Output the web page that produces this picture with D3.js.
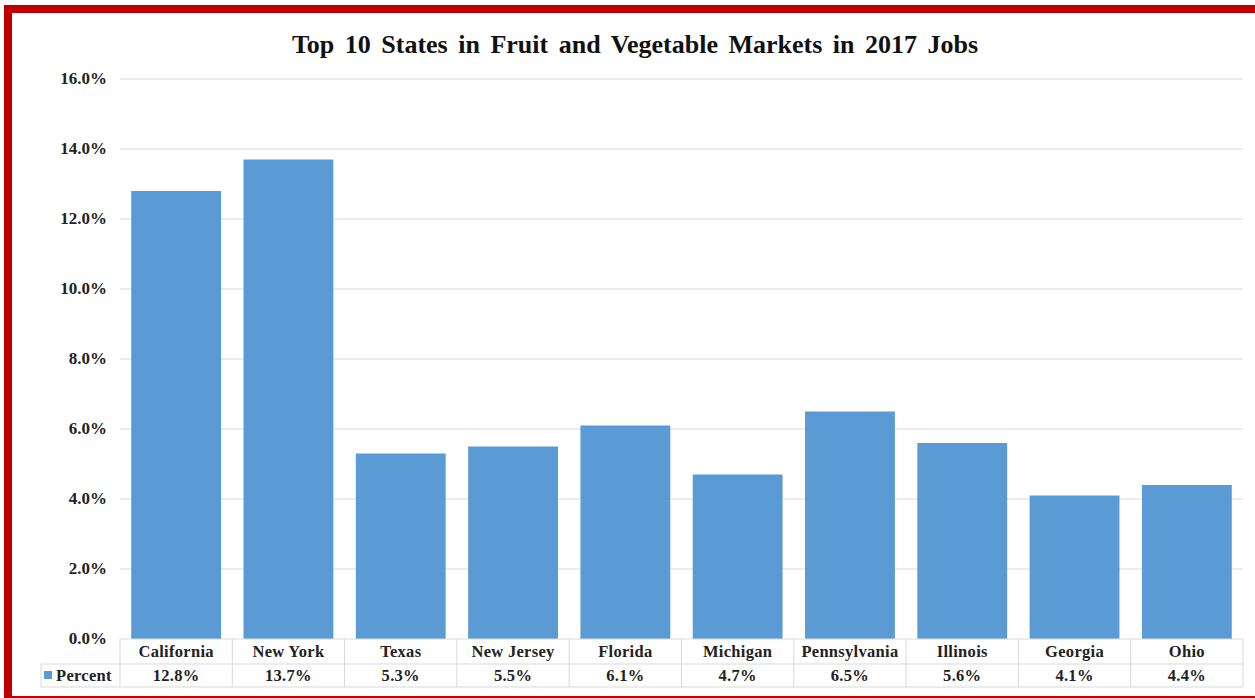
<!DOCTYPE html>
<html lang="en">
<head>
<meta charset="utf-8">
<title>Top 10 States in Fruit and Vegetable Markets in 2017 Jobs</title>
<script src="https://d3js.org/d3.v7.min.js"></script>
<style>
  body { margin: 0; background: #fff; }
  text { font-family: "Liberation Serif", "Times New Roman", serif; font-weight: bold; fill: #222; }
  text.title { font-size: 26px; fill: #111; word-spacing: 4px; }
  text.tick { font-size: 17px; }
  text.cell { font-size: 16.5px; letter-spacing: 0.3px; }
</style>
</head>
<body>
<div id="chart"></div>
<script>
// data
const states = ["California", "New York", "Texas", "New Jersey", "Florida", "Michigan", "Pennsylvania", "Illinois", "Georgia", "Ohio"];
const percent = [12.8, 13.7, 5.3, 5.5, 6.1, 4.7, 6.5, 5.6, 4.1, 4.4];
const yTicks = [0, 2, 4, 6, 8, 10, 12, 14, 16];
const seriesName = "Percent";

const W = 1255, H = 698;
const svg = d3.select("#chart").append("svg")
  .attr("width", W).attr("height", H);

// red frame
svg.append("rect").attr("x", 4).attr("y", 5).attr("width", W - 4).attr("height", 8).attr("fill", "#c00000");
svg.append("rect").attr("x", 4).attr("y", 5).attr("width", 8).attr("height", H - 5).attr("fill", "#c00000");
svg.append("rect").attr("x", 4).attr("y", 696).attr("width", W - 4).attr("height", 2).attr("fill", "#c00000");

const plot = { left: 120, right: 1243, top: 79, bottom: 639 };

const x = d3.scaleBand().domain(states).range([plot.left, plot.right]).paddingInner(0.2).paddingOuter(0.1);
const col = d3.scaleBand().domain(states).range([plot.left, plot.right]);
const y = d3.scaleLinear().domain([0, 16]).range([plot.bottom, plot.top]);

svg.append("text").attr("class", "title")
  .attr("x", 635).attr("y", 53).attr("text-anchor", "middle")
  .text("Top 10 States in Fruit and Vegetable Markets in 2017 Jobs");

// gridlines
svg.append("g").selectAll("line").data(yTicks.filter(d => d > 0)).join("line")
  .attr("x1", plot.left).attr("x2", plot.right)
  .attr("y1", d => y(d)).attr("y2", d => y(d))
  .attr("stroke", "#d9d9d9").attr("stroke-width", 1);

// y tick labels
svg.append("g").selectAll("text").data(yTicks).join("text")
  .attr("class", "tick")
  .attr("x", 107).attr("y", d => y(d) + 5)
  .attr("text-anchor", "end")
  .text(d => d.toFixed(1) + "%");

// bars
svg.append("g").selectAll("rect").data(states).join("rect")
  .attr("x", d => x(d))
  .attr("width", x.bandwidth())
  .attr("y", (d, i) => y(percent[i]))
  .attr("height", (d, i) => y(0) - y(percent[i]))
  .attr("fill", "#5b9bd5");

// data table
const rowTop = plot.bottom, rowMid = 664, rowBot = 687, legLeft = 41;
const tbl = svg.append("g").attr("stroke", "#d9d9d9").attr("stroke-width", 1).attr("fill", "none");
tbl.append("line").attr("x1", plot.left).attr("x2", plot.right).attr("y1", rowTop).attr("y2", rowTop);
tbl.append("line").attr("x1", legLeft).attr("x2", plot.right).attr("y1", rowMid).attr("y2", rowMid);
tbl.append("line").attr("x1", legLeft).attr("x2", plot.right).attr("y1", rowBot).attr("y2", rowBot);
tbl.append("line").attr("x1", legLeft).attr("x2", legLeft).attr("y1", rowMid).attr("y2", rowBot);
tbl.selectAll("line.v").data(states).join("line").attr("class", "v")
  .attr("x1", d => col(d)).attr("x2", d => col(d)).attr("y1", rowTop).attr("y2", rowBot);
tbl.append("line").attr("x1", plot.right).attr("x2", plot.right).attr("y1", rowTop).attr("y2", rowBot);

svg.append("g").selectAll("text").data(states).join("text")
  .attr("class", "cell")
  .attr("x", d => col(d) + col.bandwidth() / 2).attr("y", rowMid - 7)
  .attr("text-anchor", "middle")
  .text(d => d);

svg.append("g").selectAll("text").data(states).join("text")
  .attr("class", "cell")
  .attr("x", d => col(d) + col.bandwidth() / 2).attr("y", rowBot - 6)
  .attr("text-anchor", "middle")
  .text((d, i) => percent[i].toFixed(1) + "%");

// legend key
svg.append("rect").attr("x", 44).attr("y", 671).attr("width", 8).attr("height", 8).attr("fill", "#5b9bd5");
svg.append("text").attr("class", "cell").attr("x", 56).attr("y", rowBot - 6).text(seriesName);
</script>
</body>
</html>
